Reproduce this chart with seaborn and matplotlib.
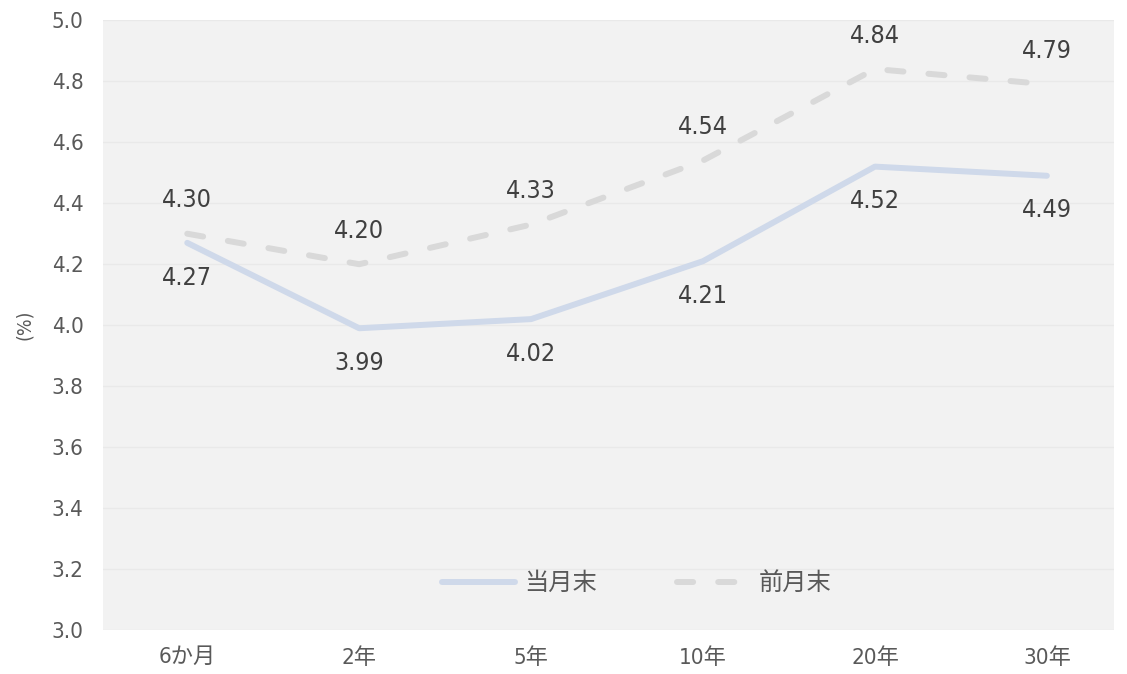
import matplotlib
matplotlib.use("Agg")
import matplotlib.pyplot as plt
import seaborn as sns
import pandas as pd

tenors = ["6か月", "2年", "5年", "10年", "20年", "30年"]
current_month = [4.27, 3.99, 4.02, 4.21, 4.52, 4.49]
previous_month = [4.30, 4.20, 4.33, 4.54, 4.84, 4.79]
series_names = ["当月末", "前月末"]
y_ticks = [3.0, 3.2, 3.4, 3.6, 3.8, 4.0, 4.2, 4.4, 4.6, 4.8, 5.0]

sns.set_theme(style="white")
plt.rcParams["font.family"] = ["DejaVu Sans", "Noto Sans CJK JP"]
plt.rcParams["font.stretch"] = "condensed"

df = pd.DataFrame({
    "tenor": tenors * 2,
    "yield": current_month + previous_month,
    "series": [series_names[0]] * len(tenors) + [series_names[1]] * len(tenors),
})

fig = plt.figure(figsize=(11.27, 6.74), dpi=100)
ax = fig.add_axes([0.0914, 0.065, 0.897, 0.905])
ax.set_facecolor("#f2f2f2")

lw = 4.3
palette = {series_names[0]: "#cfd9ea", series_names[1]: "#d9d9d9"}
sns.lineplot(data=df, x="tenor", y="yield", hue="series", style="series",
             palette=palette, dashes={series_names[0]: "", series_names[1]: (2.7, 4.2)},
             linewidth=lw, ax=ax, sort=False)
for line in ax.get_lines():
    line.set_solid_capstyle("round")
    line.set_dash_capstyle("round")

text_color = "#404040"
label_font = dict(fontsize=18, color=text_color, family=["DejaVu Sans"], stretch="condensed")
for i, (c, p) in enumerate(zip(current_month, previous_month)):
    ax.annotate(f"{p:.2f}", (i, p), xytext=(0, 24), textcoords="offset points",
                ha="center", va="center", **label_font)
    ax.annotate(f"{c:.2f}", (i, c), xytext=(0, -25), textcoords="offset points",
                ha="center", va="center", **label_font)

ax.set_xlim(-0.49, 5.39)
ax.set_ylim(3.0, 5.0)
ax.set_yticks(y_ticks)
ax.set_yticklabels([f"{t:.1f}" for t in y_ticks])
ax.yaxis.grid(True, color="#e9e9e9", linewidth=1)
ax.set_axisbelow(True)
ax.tick_params(axis="both", length=0, labelsize=16, labelcolor="#595959")
ax.tick_params(axis="y", pad=14)
ax.tick_params(axis="x", pad=12)
ax.set_xlabel("")
ax.set_ylabel("(%)", fontsize=14, color="#595959", labelpad=13)
for s in ax.spines.values():
    s.set_visible(False)

leg = ax.legend(loc="lower center", bbox_to_anchor=(0.528, 0.02), ncol=2, frameon=False,
                prop=dict(size=17.5, family=["Noto Sans CJK JP"]),
                handlelength=3.0, handletextpad=0.35, columnspacing=3.3,
                labelcolor="#595959")
for h in leg.get_lines():
    h.set_linewidth(lw)

fig.savefig("out.png", dpi=100, facecolor="white")
